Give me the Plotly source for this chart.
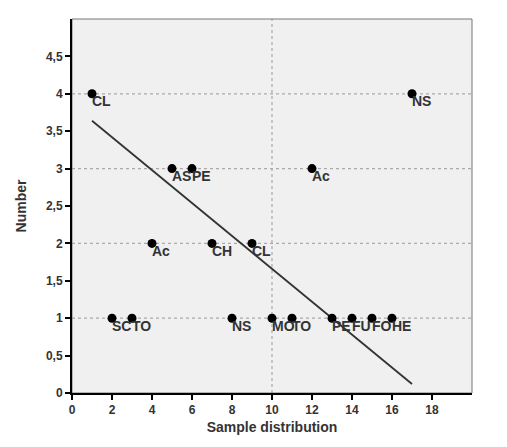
import plotly.graph_objects as go

# Data
sample_x = [1, 5, 6, 12, 17, 4, 7, 9, 2, 3, 8, 10, 11, 13, 14, 15, 16]
number_y = [4, 3, 3, 3, 4, 2, 2, 2, 1, 1, 1, 1, 1, 1, 1, 1, 1]
labels = ["CL", "AS", "PE", "Ac", "NS", "Ac", "CH", "CL", "SC", "TO", "NS", "MO", "TO", "PE", "FU", "FO", "HE"]
fit_x = [1, 17]
fit_y = [3.64, 0.12]
x_ticks = [0, 2, 4, 6, 8, 10, 12, 14, 16, 18]
y_ticks = [0, 0.5, 1, 1.5, 2, 2.5, 3, 3.5, 4, 4.5]
y_ticktext = ["0", "0,5", "1", "1,5", "2", "2,5", "3", "3,5", "4", "4,5"]
ref_y = [1, 2, 3, 4]
ref_x = [10]

font_family = "Liberation Sans, Arial, sans-serif"
txt_col = "#333333"

fig = go.Figure()

fig.add_trace(go.Scatter(
    x=fit_x, y=fit_y, mode="lines",
    line=dict(color="#333333", width=1.8), showlegend=False, hoverinfo="skip"))

fig.add_trace(go.Scatter(
    x=sample_x, y=number_y, mode="markers",
    marker=dict(color="black", size=9),
    showlegend=False))

annotations = []
for xv, yv, t in zip(sample_x, number_y, labels):
    annotations.append(dict(x=xv, y=yv, xref="x", yref="y", text="<b>%s</b>" % t,
                            showarrow=False, xanchor="left", yanchor="middle",
                            xshift=-1, yshift=-7.5, borderpad=0,
                            font=dict(family=font_family, size=14, color=txt_col)))

shapes = []
for yv in ref_y:
    shapes.append(dict(type="line", xref="paper", yref="y", x0=0, x1=1, y0=yv, y1=yv,
                       line=dict(color="#aaaaaa", width=1.2, dash="dot"), layer="below"))
for xv in ref_x:
    shapes.append(dict(type="line", xref="x", yref="paper", x0=xv, x1=xv, y0=0, y1=1,
                       line=dict(color="#aaaaaa", width=1.2, dash="dot"), layer="below"))
shapes.append(dict(type="rect", xref="paper", yref="paper", x0=0, x1=1, y0=0, y1=1,
                   line=dict(color="#777777", width=1), layer="below"))

fig.update_layout(
    width=507, height=447,
    margin=dict(l=72, r=35, t=19, b=54),
    paper_bgcolor="white",
    plot_bgcolor="#f0f0f0",
    font=dict(family=font_family, color=txt_col),
    shapes=shapes,
    annotations=annotations,
    xaxis=dict(range=[0, 20], tickvals=x_ticks, ticktext=["<b>%d</b>" % v for v in x_ticks],
               showgrid=False, zeroline=False, showline=True, linecolor="black", linewidth=2,
               ticks="outside", ticklen=5, tickcolor="black", tickwidth=1.5,
               tickfont=dict(size=12, color=txt_col),
               title=dict(text="<b>Sample distribution</b>", font=dict(size=14, color=txt_col), standoff=6)),
    yaxis=dict(range=[0, 5], tickvals=y_ticks, ticktext=["<b>%s</b>" % t for t in y_ticktext],
               showgrid=False, zeroline=False, showline=True, linecolor="black", linewidth=2,
               ticks="outside", ticklen=5, tickcolor="black", tickwidth=1.5,
               tickfont=dict(size=12, color=txt_col),
               title=dict(text="<b>Number</b>", font=dict(size=14, color=txt_col), standoff=16)),
)

fig.write_html("out.html")
